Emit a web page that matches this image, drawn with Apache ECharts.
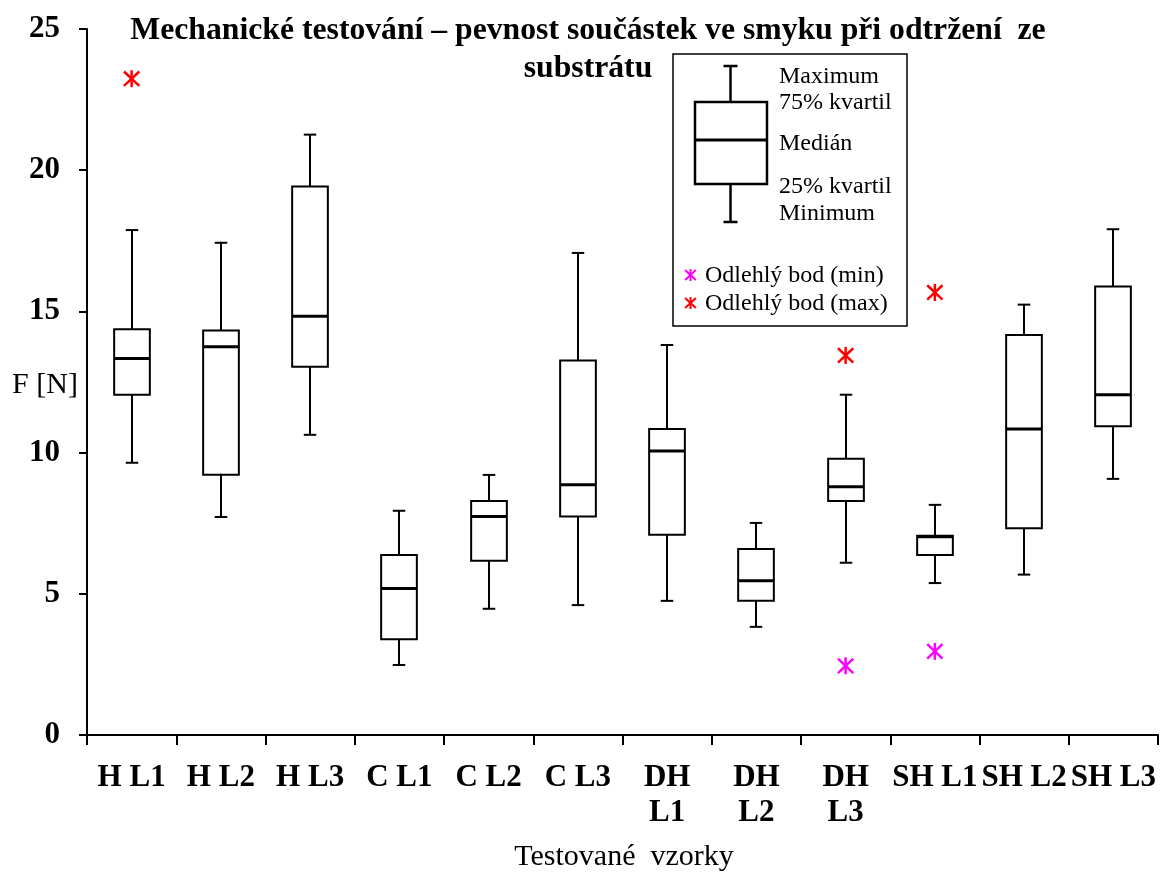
<!DOCTYPE html>
<html>
<head>
<meta charset="utf-8">
<script src="https://cdn.jsdelivr.net/npm/echarts@6/dist/echarts.min.js"></script>
<style>
html,body{margin:0;padding:0;background:#fff;}
#main{width:1163px;height:872px;}
</style>
</head>
<body>
<div id="main"></div>
<script>
// ---- data ----
var categories = ['H L1','H L2','H L3','C L1','C L2','C L3','DH\nL1','DH\nL2','DH\nL3','SH L1','SH L2','SH L3'];
var minimum = [9.64, 7.72, 10.63, 2.48, 4.47, 4.60, 4.75, 3.83, 6.10, 5.38, 5.68, 9.07];
var q1      = [12.05, 9.22, 13.04, 3.39, 6.17, 7.74, 7.09, 4.75, 8.29, 6.37, 7.32, 10.93];
var median  = [13.33, 13.75, 14.83, 5.19, 7.74, 8.86, 10.06, 5.46, 8.79, 7.02, 10.84, 12.05];
var q3      = [14.37, 14.32, 19.42, 6.37, 8.29, 13.26, 10.84, 6.59, 9.78, 7.06, 14.16, 15.88];
var maximum = [17.88, 17.43, 21.26, 7.94, 9.21, 17.07, 13.81, 7.51, 12.05, 8.15, 15.24, 17.91];
var outlierMaxCat = [0, 8, 9];
var outlierMaxVal = [23.24, 13.44, 15.67];
var outlierMinCat = [8, 9];
var outlierMinVal = [2.45, 2.96];
var yTicks = [0, 5, 10, 15, 20, 25];

var titleText = ['Mechanické testování – pevnost součástek ve smyku při odtržení  ze', 'substrátu'];
var yAxisName = 'F [N]';
var xAxisName = 'Testované  vzorky';
var legendLabels = ['Maximum', '75% kvartil', 'Medián', '25% kvartil', 'Minimum'];
var outlierLabels = ['Odlehlý bod (min)', 'Odlehlý bod (max)'];

// ---- build ----
var boxData = categories.map(function (c, i) {
  return [i, minimum[i], q1[i], median[i], q3[i], maximum[i]];
});
var maxOut = outlierMaxCat.map(function (c, i) { return [c, outlierMaxVal[i]]; });
var minOut = outlierMinCat.map(function (c, i) { return [c, outlierMinVal[i]]; });

var FONT = '"Liberation Serif", "Times New Roman", serif';
var LW = 2;

function renderBox(params, api) {
  var x = api.value(0);
  var pMin = api.coord([x, api.value(1)]);
  var pQ1 = api.coord([x, api.value(2)]);
  var pMed = api.coord([x, api.value(3)]);
  var pQ3 = api.coord([x, api.value(4)]);
  var pMax = api.coord([x, api.value(5)]);
  var band = api.size([1, 0])[0];
  var bw = band * 0.40, cw = band * 0.14;
  var cx = Math.round(pMed[0]);
  var st = { stroke: '#000', lineWidth: LW, fill: null };
  return {
    type: 'group',
    children: [
      { type: 'line', shape: { x1: cx, y1: pMax[1], x2: cx, y2: pQ3[1] }, style: st },
      { type: 'line', shape: { x1: cx - cw / 2, y1: pMax[1], x2: cx + cw / 2, y2: pMax[1] }, style: st },
      { type: 'line', shape: { x1: cx, y1: pQ1[1], x2: cx, y2: pMin[1] }, style: st },
      { type: 'line', shape: { x1: cx - cw / 2, y1: pMin[1], x2: cx + cw / 2, y2: pMin[1] }, style: st },
      { type: 'rect', shape: { x: cx - bw / 2, y: pQ3[1], width: bw, height: pQ1[1] - pQ3[1] }, style: { stroke: '#000', lineWidth: LW, fill: '#fff' } },
      { type: 'line', shape: { x1: cx - bw / 2, y1: pMed[1], x2: cx + bw / 2, y2: pMed[1] }, style: { stroke: '#000', lineWidth: 3 } }
    ]
  };
}

function star(cx, cy, r, color, lw) {
  var d = r * 0.9, h = r * 0.85;
  var st = { stroke: color, lineWidth: lw };
  return [
    { type: 'line', shape: { x1: cx, y1: cy - r, x2: cx, y2: cy + r }, style: st },
    { type: 'line', shape: { x1: cx - d, y1: cy - h, x2: cx + d, y2: cy + h }, style: st },
    { type: 'line', shape: { x1: cx - d, y1: cy + h, x2: cx + d, y2: cy - h }, style: st }
  ];
}

function renderStar(color) {
  return function (params, api) {
    var p = api.coord([api.value(0), api.value(1)]);
    return { type: 'group', children: star(p[0], p[1], 8.5, color, 2.5) };
  };
}

// legend graphic
var L = { x: 673, y: 54, w: 234, h: 272 };
var lg = [];
lg.push({ type: 'rect', shape: { x: L.x, y: L.y, width: L.w, height: L.h }, style: { stroke: '#000', lineWidth: 1.5, fill: '#fff' } });
var lcx = 730.5, lst = { stroke: '#000', lineWidth: 2.5 };
lg.push({ type: 'line', shape: { x1: lcx, y1: 66, x2: lcx, y2: 102 }, style: lst });
lg.push({ type: 'line', shape: { x1: lcx - 7, y1: 66, x2: lcx + 7, y2: 66 }, style: lst });
lg.push({ type: 'rect', shape: { x: 695, y: 102, width: 72, height: 82 }, style: { stroke: '#000', lineWidth: 2.5, fill: '#fff' } });
lg.push({ type: 'line', shape: { x1: 695, y1: 140, x2: 767, y2: 140 }, style: { stroke: '#000', lineWidth: 3 } });
lg.push({ type: 'line', shape: { x1: lcx, y1: 184, x2: lcx, y2: 222 }, style: lst });
lg.push({ type: 'line', shape: { x1: lcx - 7, y1: 222, x2: lcx + 7, y2: 222 }, style: lst });
var legY = [77, 103, 144, 187, 214];
legendLabels.forEach(function (t, i) {
  lg.push({ type: 'text', x: 779, y: legY[i], style: { text: t, font: '24px ' + FONT, fill: '#000', textVerticalAlign: 'middle', textAlign: 'left' } });
});
lg = lg.concat(star(690.5, 275, 6, '#FF00FF', 2));
lg = lg.concat(star(690.5, 303, 6, '#FF0000', 2));
lg.push({ type: 'text', x: 705, y: 276, style: { text: outlierLabels[0], font: '24px ' + FONT, fill: '#000', textVerticalAlign: 'middle', textAlign: 'left' } });
lg.push({ type: 'text', x: 705, y: 304, style: { text: outlierLabels[1], font: '24px ' + FONT, fill: '#000', textVerticalAlign: 'middle', textAlign: 'left' } });

var graphics = [
  { type: 'text', x: 588, y: 31, z: 10, style: { text: titleText[0], font: 'bold 31.7px ' + FONT, fill: '#000', textAlign: 'center', textVerticalAlign: 'middle' } },
  { type: 'text', x: 588, y: 68.5, z: 10, style: { text: titleText[1], font: 'bold 31.7px ' + FONT, fill: '#000', textAlign: 'center', textVerticalAlign: 'middle' } },
  { type: 'text', x: 45, y: 385, style: { text: yAxisName, font: '30px ' + FONT, fill: '#000', textAlign: 'center', textVerticalAlign: 'middle' } },
  { type: 'text', x: 624, y: 857, style: { text: xAxisName, font: '30px ' + FONT, fill: '#000', textAlign: 'center', textVerticalAlign: 'middle' } },
  { type: 'group', z: 5, children: lg }
];

var chart = echarts.init(document.getElementById('main'), null, { renderer: 'canvas' });
chart.setOption({
  animation: false,
  backgroundColor: '#fff',
  grid: { left: 87, right: 5, top: 29, bottom: 137, containLabel: false },
  xAxis: {
    type: 'category',
    data: categories,
    boundaryGap: true,
    axisLine: { lineStyle: { color: '#000', width: 2 } },
    axisTick: { show: true, length: 10, lineStyle: { color: '#000', width: 2 }, interval: 0 },
    axisLabel: { interval: 0, margin: 25, color: '#000', fontFamily: FONT, fontWeight: 'bold', fontSize: 31, lineHeight: 35 },
    splitLine: { show: false }
  },
  yAxis: {
    type: 'value',
    min: yTicks[0], max: yTicks[yTicks.length - 1], interval: 5,
    axisLine: { show: true, lineStyle: { color: '#000', width: 2 } },
    axisTick: { show: true, length: 8, lineStyle: { color: '#000', width: 2 } },
    axisLabel: { margin: 27, color: '#000', fontFamily: FONT, fontWeight: 'bold', fontSize: 31 },
    splitLine: { show: false }
  },
  graphic: graphics,
  series: [
    { type: 'custom', name: 'box', renderItem: renderBox, data: boxData, encode: { x: 0, y: [1, 2, 3, 4, 5] }, z: 2 },
    { type: 'custom', name: 'Odlehlý bod (max)', renderItem: renderStar('#FF0000'), data: maxOut, encode: { x: 0, y: 1 }, z: 3 },
    { type: 'custom', name: 'Odlehlý bod (min)', renderItem: renderStar('#FF00FF'), data: minOut, encode: { x: 0, y: 1 }, z: 3 }
  ]
});
</script>
</body>
</html>
